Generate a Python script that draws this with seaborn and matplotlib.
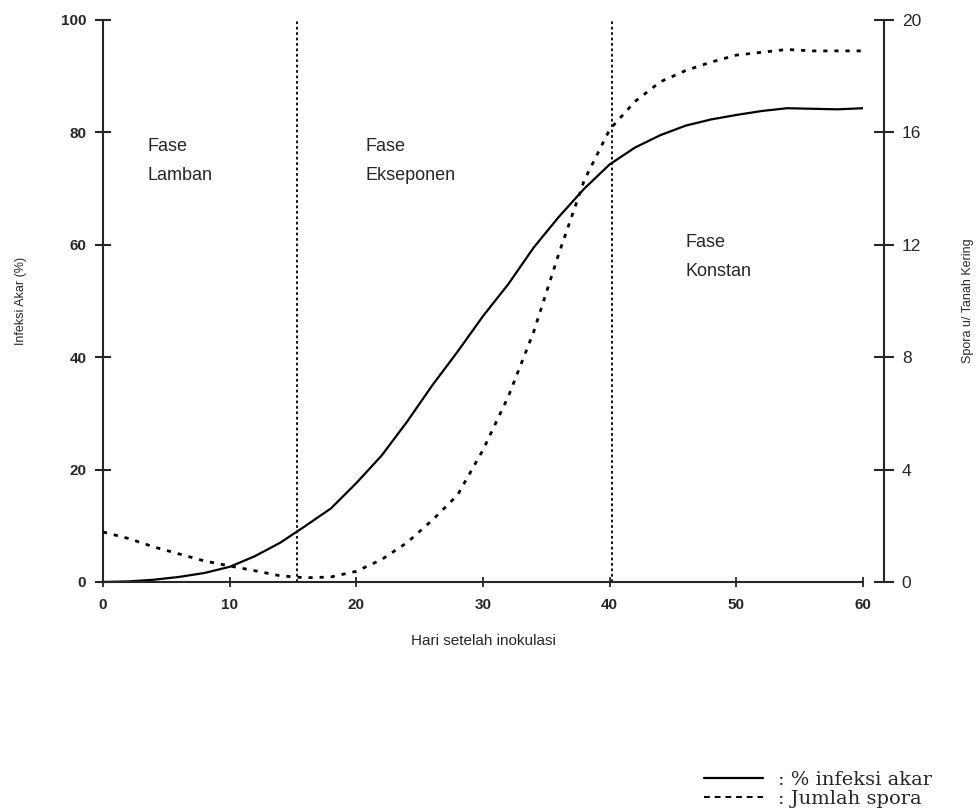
import numpy as np
import pandas as pd
import matplotlib
matplotlib.use('Agg')
import matplotlib.pyplot as plt
from matplotlib.lines import Line2D
import seaborn as sns

# --- data ---
hari = [0, 2, 4, 6, 8, 10, 12, 14, 16, 18, 20, 22, 24, 26, 28, 30,
        32, 34, 36, 38, 40, 42, 44, 46, 48, 50, 52, 54, 56, 58, 60]
infeksi = [0, 0.1, 0.4, 0.9, 1.6, 2.7, 4.6, 7.0, 10.0, 13.1, 17.6, 22.5, 28.5, 35.0, 41.0, 47.3,
           53.0, 59.5, 65.0, 70.0, 74.3, 77.3, 79.5, 81.2, 82.3, 83.1, 83.8, 84.3, 84.2, 84.1, 84.3]
spora = [1.78, 1.55, 1.25, 1.0, 0.75, 0.57, 0.4, 0.22, 0.15, 0.18, 0.38, 0.8, 1.4, 2.2, 3.1, 4.7,
         6.6, 8.9, 11.7, 14.3, 16.1, 17.1, 17.8, 18.2, 18.5, 18.75, 18.85, 18.95, 18.9, 18.9, 18.9]
batas_fase = [15.3, 40.2]
fase_label = ["Fase\nLamban", "Fase\nEkseponen", "Fase\nKonstan"]
fase_x = [3.5, 20.7, 46.0]
fase_y = [79.0, 79.0, 62.0]

df = pd.DataFrame({'hari': hari, 'infeksi': infeksi, 'spora': spora})

sns.set_style("ticks")
plt.rcParams['font.family'] = ['Liberation Sans', 'DejaVu Sans']

fig = plt.figure(figsize=(9.77, 8.09), dpi=100)
ax = fig.add_axes([0.1054, 0.2806, 0.7779, 0.6947])

sns.lineplot(data=df, x='hari', y='infeksi', ax=ax, color='black', linewidth=1.6)
ax.set_xlim(0, 60)
ax.set_ylim(0, 100)
ax.set_xticks(range(0, 61, 10))
ax.set_yticks(range(0, 101, 20))

for xv in batas_fase:
    ax.axvline(xv, color='black', linewidth=1.3, linestyle=(0, (1.5, 1.5)))

ax2 = ax.twinx()
sns.lineplot(data=df, x='hari', y='spora', ax=ax2, color='black', linewidth=2.0,
             linestyle=(0, (1.5, 2.5)))
ax2.set_ylim(0, 20)
ax2.set_yticks(range(0, 21, 4))

for a in (ax, ax2):
    a.spines['top'].set_visible(False)
    for s in a.spines.values():
        s.set_linewidth(1.5)
ax.spines['right'].set_visible(False)
ax2.spines['left'].set_visible(False)
ax2.spines['bottom'].set_visible(False)
ax2.spines['right'].set_position(('outward', 15))

ax.tick_params(axis='y', direction='inout', length=12, width=1.5, labelsize=11, pad=6)
ax.tick_params(axis='x', direction='inout', length=7, width=1.3, labelsize=11, pad=8)
ax2.tick_params(axis='y', direction='inout', length=14, width=1.5, labelsize=12.5, pad=6)
for lab in ax.get_xticklabels() + ax.get_yticklabels():
    lab.set_fontweight('bold')

ax.set_xlabel("Hari setelah inokulasi", fontsize=11, labelpad=16)
ax.set_ylabel("Infeksi Akar (%)", fontsize=9, labelpad=24)
ax2.set_ylabel("Spora u/ Tanah Kering", fontsize=9, labelpad=29)

for txt, xv, yv in zip(fase_label, fase_x, fase_y):
    ax.text(xv, yv, txt, fontsize=13, va='top', ha='left', linespacing=1.95)

handles = [Line2D([], [], color='black', linewidth=1.6),
           Line2D([], [], color='black', linewidth=1.4, linestyle=(0, (3, 2.5)))]
fig.legend(handles, [": % infeksi akar", ": Jumlah spora"],
           loc='lower left', bbox_to_anchor=(0.703, -0.02), frameon=False,
           handlelength=3.0, handletextpad=0.8, labelspacing=0.05,
           prop={'family': 'DejaVu Serif', 'size': 14})

plt.savefig('out.png', dpi=100)
